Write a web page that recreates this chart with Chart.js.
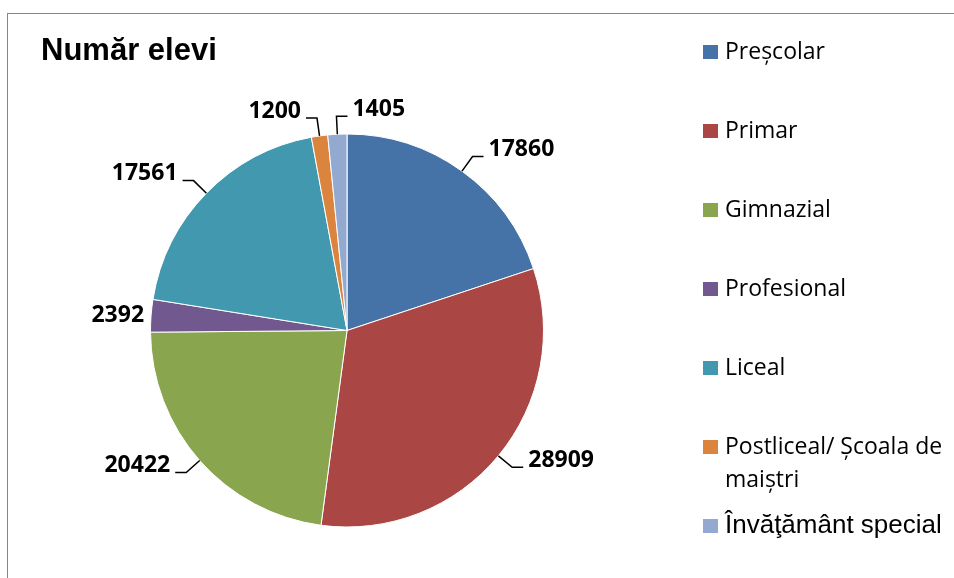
<!DOCTYPE html>
<html lang="ro">
<head>
    <meta charset="UTF-8">
    <title>Număr elevi</title>
    <script src="https://cdn.jsdelivr.net/npm/chart.js"></script>
    <style>
        html, body {
            margin: 0;
            padding: 0;
            background: #fff;
        }

        .chart-box {
            position: relative;
            width: 954px;
            height: 578px;
        }
    </style>
</head>
<body>
    <div class="chart-box">
        <canvas id="eleviChart" width="954" height="578"></canvas>
    </div>

    <script>
        // Data
        const chartTitle = 'Număr elevi';
        const categories = ['Preşcolar', 'Primar', 'Gimnazial', 'Profesional', 'Liceal',
                            'Postliceal/ Școala de maiştri', 'Învăţământ special'];
        const elevi = [17860, 28909, 20422, 2392, 17561, 1200, 1405];
        const sliceColors = ['#4572A7', '#AA4643', '#89A54E', '#71588F', '#4198AF', '#DB843D', '#93A9CF'];

        const labelFont = 'bold 23px "Open Sans", sans-serif';
        const legendFont = '23px "Open Sans", sans-serif';
        const legendFontLast = '26px "Liberation Sans", Arial, sans-serif';

        // wrap legend text to a max width
        function wrapText(ctx, text, maxWidth) {
            const words = text.split(' ');
            const lines = [];
            let line = '';
            words.forEach(word => {
                const test = line ? line + ' ' + word : word;
                if (ctx.measureText(test).width > maxWidth && line) {
                    lines.push(line);
                    line = word;
                } else {
                    line = test;
                }
            });
            if (line) lines.push(line);
            return lines;
        }

        function overlaps(a, b) {
            return a.x1 < b.x2 && b.x1 < a.x2 && a.y1 < b.y2 && b.y1 < a.y2;
        }

        // frame, title, data labels with leader lines, legend
        const pieDecor = {
            id: 'pieDecor',
            beforeDraw(chart) {
                const ctx = chart.ctx;
                ctx.save();
                ctx.strokeStyle = '#868686';
                ctx.lineWidth = 1;
                ctx.strokeRect(7.5, 13.5, chart.width + 20, chart.height + 20);

                ctx.fillStyle = '#000';
                ctx.font = 'bold 31px "Liberation Sans", Arial, sans-serif';
                ctx.textBaseline = 'alphabetic';
                ctx.textAlign = 'left';
                ctx.fillText(chartTitle, 41, 60);
                ctx.restore();
            },
            afterDatasetsDraw(chart) {
                const ctx = chart.ctx;
                const meta = chart.getDatasetMeta(0);
                const placed = [];
                ctx.save();
                ctx.font = labelFont;
                ctx.fillStyle = '#000';
                ctx.strokeStyle = '#000';
                ctx.lineWidth = 1.5;
                ctx.textBaseline = 'middle';

                meta.data.forEach((arc, i) => {
                    const mid = (arc.startAngle + arc.endAngle) / 2;
                    const cos = Math.cos(mid);
                    const sin = Math.sin(mid);
                    const r = arc.outerRadius;
                    const px = arc.x + r * cos;
                    const py = arc.y + r * sin;
                    const text = String(elevi[i]);
                    const w = ctx.measureText(text).width;
                    let side = cos >= 0 ? 1 : -1;

                    // label sitting right next to the rim, no leader
                    if (Math.abs(sin) < 0.2) {
                        const tx = px + side * 7;
                        ctx.textAlign = side > 0 ? 'left' : 'right';
                        ctx.fillText(text, tx, py);
                        placed.push({ x1: side > 0 ? tx : tx - w, x2: side > 0 ? tx + w : tx, y1: py - 11, y2: py + 11 });
                        return;
                    }

                    const ex = arc.x + (r + 18) * cos;
                    const ey = arc.y + (r + 18) * sin;
                    const boxFor = s => {
                        const hx = ex + s * 11;
                        const left = s > 0 ? hx + 5 : hx - 5 - w;
                        return { x1: left, x2: left + w, y1: ey - 18, y2: ey + 4 };
                    };
                    let box = boxFor(side);
                    if (placed.some(p => overlaps(p, box))) {
                        side = -side;
                        box = boxFor(side);
                    }
                    placed.push(box);

                    ctx.beginPath();
                    ctx.moveTo(px, py);
                    ctx.lineTo(ex, ey);
                    ctx.lineTo(ex + side * 11, ey);
                    ctx.stroke();

                    ctx.textAlign = 'left';
                    ctx.fillText(text, box.x1, ey - 7);
                });
                ctx.restore();
            },
            afterDraw(chart) {
                const ctx = chart.ctx;
                ctx.save();
                ctx.textBaseline = 'middle';
                ctx.textAlign = 'left';
                categories.forEach((name, i) => {
                    const cy = 52 + i * 79;
                    ctx.fillStyle = sliceColors[i];
                    ctx.fillRect(703, cy - 7, 15, 14);
                    ctx.fillStyle = '#000';
                    ctx.font = i === categories.length - 1 ? legendFontLast : legendFont;
                    const lines = wrapText(ctx, name, 236);
                    lines.forEach((line, j) => ctx.fillText(line, 725, cy + j * 33));
                });
                ctx.restore();
            }
        };

        const ctx = document.getElementById('eleviChart').getContext('2d');
        const eleviChart = new Chart(ctx, {
            type: 'pie',
            data: {
                labels: categories,
                datasets: [{
                    data: elevi,
                    backgroundColor: sliceColors,
                    borderColor: '#ffffff',
                    borderWidth: 1,
                    hoverOffset: 0
                }]
            },
            options: {
                responsive: false,
                animation: false,
                layout: {
                    padding: { left: 150, top: 133, right: 410, bottom: 50 }
                },
                plugins: {
                    legend: { display: false },
                    tooltip: { enabled: false }
                }
            },
            plugins: [pieDecor]
        });
    </script>
</body>
</html>
